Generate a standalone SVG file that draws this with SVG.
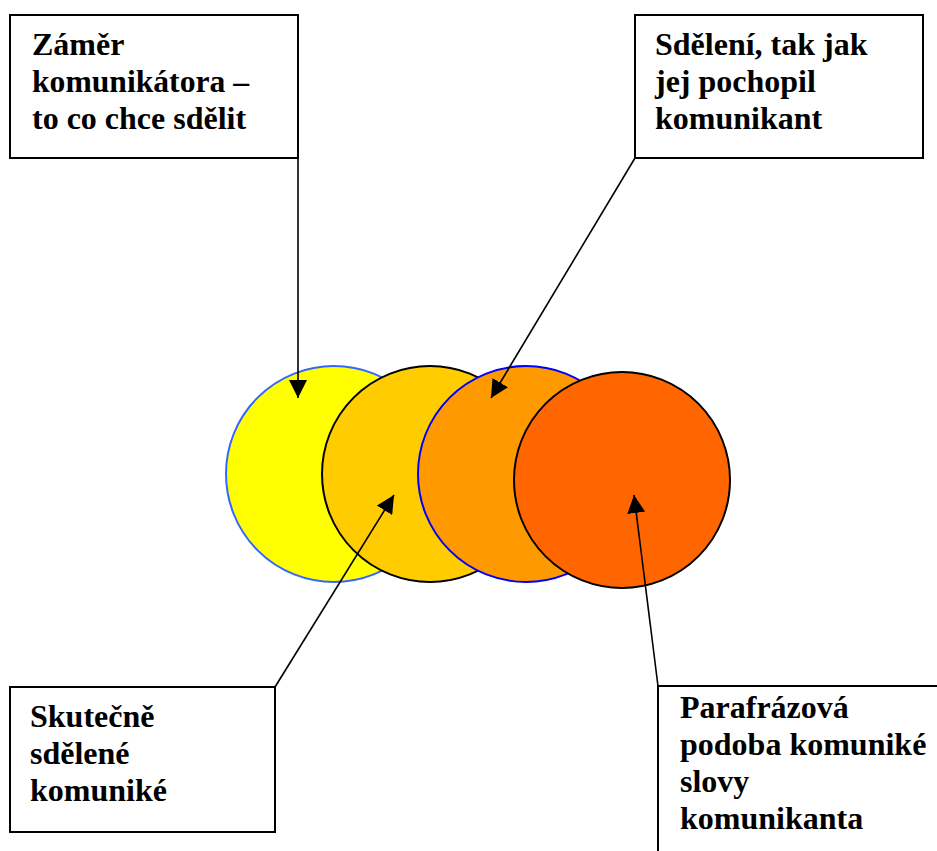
<svg xmlns="http://www.w3.org/2000/svg" width="937" height="851" viewBox="0 0 937 851">
<defs>
<style>
.box{fill:#fff;stroke:#000;stroke-width:2}
.lbl{font-family:"Liberation Serif","Times New Roman",serif;font-weight:bold;font-size:32px;fill:#000}
.conn{stroke:#000;stroke-width:1.6;fill:none;marker-end:url(#ah)}
</style>
<marker id="ah" markerUnits="userSpaceOnUse" markerWidth="18" markerHeight="18" viewBox="0 0 16 16" refX="16" refY="8" orient="auto">
<path d="M0,0 L16,8 L0,16 Z" fill="#000"/>
</marker>
</defs>
<rect width="937" height="851" fill="#fff"/>
<g id="circles">
<circle id="c1" cx="334" cy="474" r="108" fill="#FFFF00" stroke="#3366FF" stroke-width="2"/>
<circle id="c2" cx="430" cy="474" r="108" fill="#FFCC00" stroke="#000" stroke-width="2"/>
<circle id="c3" cx="526" cy="474" r="108" fill="#FF9900" stroke="#0000FF" stroke-width="2"/>
<circle id="c4" cx="622" cy="480" r="108" fill="#FF6600" stroke="#000" stroke-width="2"/>
</g>
<g id="box1">
<rect class="box" x="10" y="15" width="288" height="143"/>
<text class="lbl" x="32" y="55">Záměr</text>
<text class="lbl" x="32" y="92" textLength="217" lengthAdjust="spacingAndGlyphs">komunikátora –</text>
<text class="lbl" x="32" y="129">to co chce sdělit</text>
</g>
<g id="box2">
<rect class="box" x="635" y="15" width="288" height="143"/>
<text class="lbl" x="655" y="55">Sdělení, tak jak</text>
<text class="lbl" x="655" y="92">jej pochopil</text>
<text class="lbl" x="655" y="129">komunikant</text>
</g>
<g id="box3">
<rect class="box" x="10" y="687" width="265" height="145"/>
<text class="lbl" x="30" y="727">Skutečně</text>
<text class="lbl" x="30" y="764">sdělené</text>
<text class="lbl" x="30" y="801">komuniké</text>
</g>
<g id="box4">
<path d="M658,851 L658,686 L937,686" fill="none" stroke="#000" stroke-width="2"/>
<text class="lbl" x="680" y="718">Parafrázová</text>
<text class="lbl" x="680" y="755">podoba komuniké</text>
<text class="lbl" x="680" y="792">slovy</text>
<text class="lbl" x="680" y="829">komunikanta</text>
</g>
<g id="connectors">
<line class="conn" x1="298" y1="158" x2="298" y2="398"/>
<line class="conn" x1="635" y1="158" x2="491" y2="398"/>
<line class="conn" x1="275" y1="687" x2="394" y2="495"/>
<line class="conn" x1="658" y1="686" x2="634" y2="495"/>
</g>
</svg>
